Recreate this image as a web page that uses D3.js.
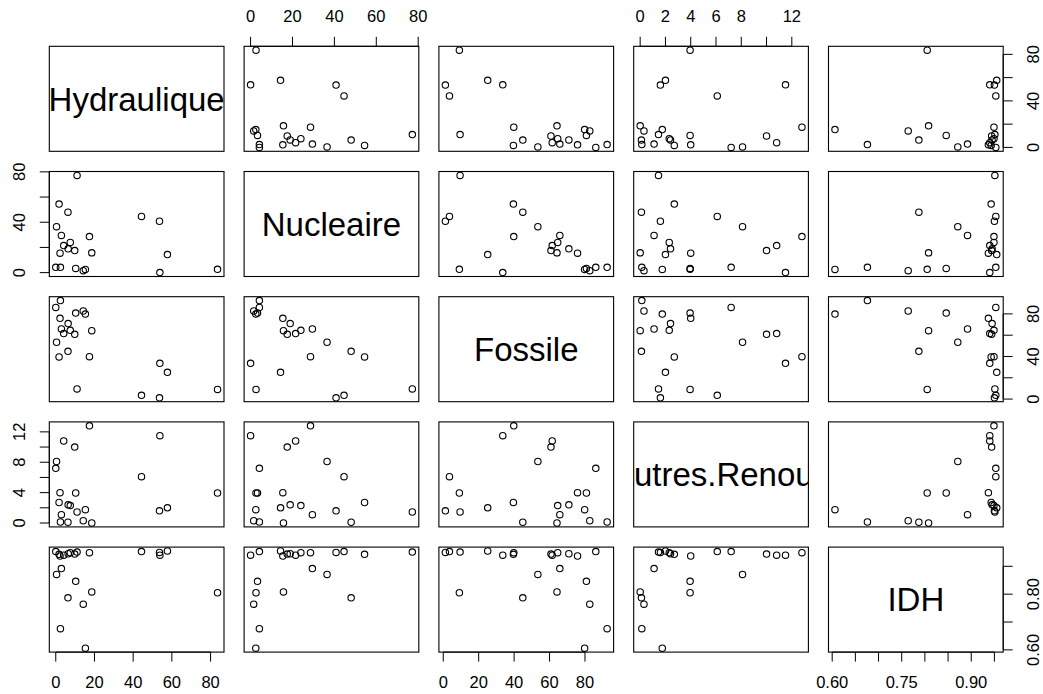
<!DOCTYPE html>
<html><head><meta charset="utf-8">
<script src="https://cdn.jsdelivr.net/npm/d3@7"></script>
<style>body{margin:0;background:#fff;} svg{display:block;}</style>
</head><body><svg id="c" width="1043" height="694"></svg>
<script>
const varNames = ["Hydraulique","Nucleaire","Fossile","Autres.Renouv","IDH"];
const hydraulique = [11.0,1.7,6.3,44.3,53.6,0.4,2.9,17.4,7.5,4.1,6.4,9.8,2.2,18.6,57.7,0.0,2.4,10.3,14.2,15.3,53.8,83.6];
const nucleaire   = [77.2,54.4,48.0,44.6,40.8,36.5,29.5,28.6,24.0,21.5,18.9,17.5,15.4,15.7,14.3,4.2,4.2,3.3,1.5,2.5,0.0,2.6];
const fossile     = [9.5,39.6,44.9,3.5,1.2,53.4,65.8,39.8,64.6,61.5,70.9,60.8,75.8,64.2,25.1,86.1,92.5,80.8,82.7,79.8,33.6,9.1];
const autresRenouvelables = [1.45,2.7,0.1,6.1,1.6,8.1,1.1,12.8,2.3,10.8,2.4,10.0,4.0,0.0,2.0,7.2,0.13,3.95,0.3,1.75,11.5,3.95];
const idh         = [0.951,0.943,0.787,0.953,0.950,0.871,0.892,0.949,0.949,0.940,0.945,0.944,0.937,0.808,0.955,0.953,0.676,0.846,0.764,0.606,0.940,0.805];

// ticks and the labels that R kept (null = tick without label)
const ticksH = [0,20,40,60,80];
const ticksN = [0,20,40,60,80];
const ticksF = [0,20,40,60,80];
const ticksA = [0,2,4,6,8,10,12];
const ticksI = [0.60,0.65,0.70,0.75,0.80,0.85,0.90,0.95];
const labBottomH = ["0","20","40","60","80"];
const labTopN = ["0","20","40","60","80"];
const labBottomF = ["0","20","40","60","80"];
const labTopA = ["0","2","4","6","8",null,"12"];
const labBottomI = ["0.60",null,null,"0.75",null,null,"0.90",null];
const labRightH = ["0",null,"40",null,"80"];
const labLeftN = ["0",null,"40",null,"80"];
const labRightF = ["0",null,"40",null,"80"];
const labLeftA = ["0",null,"4",null,"8",null,"12"];
const ticksIy = [0.60,0.70,0.80,0.90];
const labRightI = ["0.60",null,"0.80",null];

const data = [hydraulique,nucleaire,fossile,autresRenouvelables,idh];
const n = 5;
const left0 = 49.3, colStep = 194.8, W = 174.7;
const top0 = 46.3, rowStep = 125.2, H = 105;
const font = "'Liberation Sans', Arial, Helvetica, sans-serif";
const svg = d3.select("#c");

function dom(v){ const mn=d3.min(v), mx=d3.max(v), r=mx-mn; return [mn-0.04*r, mx+0.04*r]; }
const xs = data.map((v,j)=> d3.scaleLinear().domain(dom(v)).range([left0+j*colStep, left0+j*colStep+W]));
const ys = data.map((v,i)=> d3.scaleLinear().domain(dom(v)).range([top0+i*rowStep+H, top0+i*rowStep]));

const defs = svg.append("defs");
for(let i=0;i<n;i++){
  for(let j=0;j<n;j++){
    const x0 = left0+j*colStep, y0 = top0+i*rowStep;
    const g = svg.append("g");
    if(i===j){
      defs.append("clipPath").attr("id","cl"+i).append("rect").attr("x",x0).attr("y",y0).attr("width",W).attr("height",H);
      g.append("text").attr("x",x0+W/2).attr("y",y0+H/2).attr("dy","0.36em")
        .attr("text-anchor","middle").attr("font-family",font).attr("font-size",33)
        .attr("clip-path","url(#cl"+i+")").text(varNames[i]);
    } else {
      g.selectAll("circle").data(d3.range(data[0].length)).join("circle")
        .attr("cx",k=>xs[j](data[j][k])).attr("cy",k=>ys[i](data[i][k])).attr("r",3.2)
        .attr("fill","none").attr("stroke","#000").attr("stroke-width",1.1);
    }
    g.append("rect").attr("x",x0).attr("y",y0).attr("width",W).attr("height",H)
      .attr("fill","none").attr("stroke","#000").attr("stroke-width",1.1);
  }
}

const TL = 9.5, LO = 30;
function hAxis(scale, ticks, labs, yb, dir){
  const g = svg.append("g");
  ticks.forEach((t,k)=>{
    const x = scale(t);
    g.append("line").attr("x1",x).attr("x2",x).attr("y1",yb).attr("y2",yb+dir*TL).attr("stroke","#000").attr("stroke-width",1);
    if(labs[k]!==null) g.append("text").attr("x",x).attr("y",yb+dir*LO).attr("dy","0.36em").attr("text-anchor","middle")
      .attr("font-family",font).attr("font-size",16.5).text(labs[k]);
  });
  g.append("line").attr("x1",scale(ticks[0])).attr("x2",scale(ticks[ticks.length-1])).attr("y1",yb).attr("y2",yb).attr("stroke","#000").attr("stroke-width",1);
}
function vAxis(scale, ticks, labs, xb, dir){
  const g = svg.append("g");
  ticks.forEach((t,k)=>{
    const y = scale(t);
    g.append("line").attr("x1",xb).attr("x2",xb+dir*TL).attr("y1",y).attr("y2",y).attr("stroke","#000").attr("stroke-width",1);
    if(labs[k]!==null) g.append("text").attr("transform",`translate(${xb+dir*LO},${y}) rotate(-90)`).attr("dy","0.36em").attr("text-anchor","middle")
      .attr("font-family",font).attr("font-size",16.5).text(labs[k]);
  });
  g.append("line").attr("x1",xb).attr("x2",xb).attr("y1",scale(ticks[0])).attr("y2",scale(ticks[ticks.length-1])).attr("stroke","#000").attr("stroke-width",1);
}
const bottomY = top0+4*rowStep+H, topY = top0, leftX = left0, rightX = left0+4*colStep+W;
hAxis(xs[0], ticksH, labBottomH, bottomY, 1);
hAxis(xs[2], ticksF, labBottomF, bottomY, 1);
hAxis(xs[4], ticksI, labBottomI, bottomY, 1);
hAxis(xs[1], ticksN, labTopN, topY, -1);
hAxis(xs[3], ticksA, labTopA, topY, -1);
vAxis(ys[1], ticksN, labLeftN, leftX, -1);
vAxis(ys[3], ticksA, labLeftA, leftX, -1);
vAxis(ys[0], ticksH, labRightH, rightX, 1);
vAxis(ys[2], ticksF, labRightF, rightX, 1);
vAxis(ys[4], ticksIy, labRightI, rightX, 1);
</script></body></html>
